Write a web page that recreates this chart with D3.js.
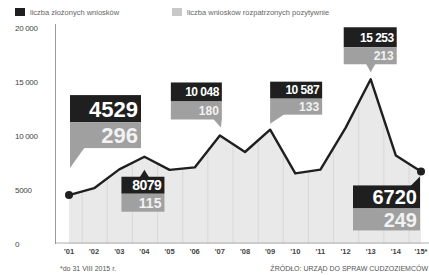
<!DOCTYPE html>
<html>
<head>
<meta charset="utf-8">
<script src="https://cdn.jsdelivr.net/npm/d3@7"></script>
<style>
  body { margin: 0; background: #fff; }
  text { font-family: "Liberation Sans", Arial, sans-serif; }
</style>
</head>
<body>
<div id="chart"></div>
<script>
// data
var years = [2001, 2002, 2003, 2004, 2005, 2006, 2007, 2008, 2009, 2010, 2011, 2012, 2013, 2014, 2015];
var yearLabels = ["'01", "'02", "'03", "'04", "'05", "'06", "'07", "'08", "'09", "'10", "'11", "'12", "'13", "'14", "'15*"];
var applications = [4529, 5170, 6909, 8079, 6860, 7093, 10048, 8517, 10587, 6534, 6887, 10753, 15253, 8193, 6720];
var labelledYears = [2001, 2004, 2007, 2009, 2013, 2015];
var positiveDecisions = [296, 115, 180, 133, 213, 249];
var yTicks = [0, 5000, 10000, 15000, 20000];
var yTickLabels = ["0", "5000", "10 000", "15 000", "20 000"];
var legendLabels = ["liczba złożonych wniosków", "liczba wniosków rozpatrzonych pozytywnie"];

var W = 429, H = 275;
var dark = '#1f1f1f', grey = '#a0a0a0';

var svg = d3.select('#chart').append('svg')
    .attr('width', W)
    .attr('height', H);

var x = d3.scaleLinear()
    .domain([2001, 2015])
    .range([69, 421]);

var y = d3.scaleLinear()
    .domain([0, 20000])
    .range([244, 28]);

var pts = years.map((yr, i) => ({year: yr, value: applications[i]}));

// legend
var legend = svg.append('g');
[[15, dark], [172, '#c8c8c8']].forEach(function(d, i) {
    legend.append('rect')
        .attr('x', d[0]).attr('y', 8)
        .attr('width', 10).attr('height', 8)
        .attr('fill', d[1]);
    legend.append('text')
        .attr('x', d[0] + 15).attr('y', 15)
        .attr('font-size', 7.5)
        .attr('fill', '#666')
        .text(legendLabels[i]);
});

// area + vertical grid
var area = d3.area()
    .x(d => x(d.year))
    .y0(y(0))
    .y1(d => y(d.value));

svg.append('path')
    .datum(pts)
    .attr('d', area)
    .attr('fill', '#e9e9e9');

svg.append('clipPath').attr('id', 'clip')
    .append('path').datum(pts).attr('d', area);

svg.append('g')
    .attr('clip-path', 'url(#clip)')
    .selectAll('line')
    .data(years).enter()
    .append('line')
    .attr('x1', d => x(d) - 12).attr('x2', d => x(d) - 12)
    .attr('y1', y(20000)).attr('y2', y(0))
    .attr('stroke', '#d8d8d8')
    .attr('stroke-width', 1);

// axes
svg.append('line')
    .attr('x1', 55).attr('x2', W)
    .attr('y1', y(0) - 1).attr('y2', y(0) - 1)
    .attr('stroke', '#b0b0b0').attr('stroke-width', 1.2);

svg.append('line')
    .attr('x1', 55.5).attr('x2', 55.5)
    .attr('y1', y(20000) - 4).attr('y2', y(0))
    .attr('stroke', '#9a9a9a').attr('stroke-width', 1);

svg.selectAll('.ytick')
    .data(yTicks).enter()
    .append('text')
    .attr('class', 'ytick')
    .attr('x', 15)
    .attr('y', d => y(d) + 3)
    .attr('font-size', 8)
    .attr('letter-spacing', -0.3)
    .attr('fill', '#444')
    .text((d, i) => yTickLabels[i]);

svg.selectAll('.xtick')
    .data(years).enter()
    .append('text')
    .attr('class', 'xtick')
    .attr('x', d => x(d))
    .attr('y', 254)
    .attr('text-anchor', 'middle')
    .attr('font-size', 7.5)
    .attr('font-weight', 'bold')
    .attr('fill', '#444')
    .text((d, i) => yearLabels[i]);

// line
var line = d3.line()
    .x(d => x(d.year))
    .y(d => y(d.value));

svg.append('path')
    .datum(pts)
    .attr('d', line)
    .attr('fill', 'none')
    .attr('stroke', dark)
    .attr('stroke-width', 2.4)
    .attr('stroke-linejoin', 'round');

svg.selectAll('.dot')
    .data([pts[0], pts[pts.length - 1]]).enter()
    .append('circle')
    .attr('cx', d => x(d.year))
    .attr('cy', d => y(d.value))
    .attr('r', 4)
    .attr('fill', dark);

// callout boxes: dx/dy = box top-left relative to point
var boxes = [
    {dx: 1,   dy: -100, w: 71, h1: 27, h2: 26, fs: 22, tail: 'downLeft'},
    {dx: -23, dy: 20,   w: 43, h1: 17, h2: 18, fs: 14, tail: 'up'},
    {dx: -49, dy: -53,  w: 51, h1: 19, h2: 18, fs: 12, tail: 'downRight'},
    {dx: 0,   dy: -48,  w: 52, h1: 17, h2: 16, fs: 12, tail: 'downLeft'},
    {dx: -27, dy: -52,  w: 53, h1: 20, h2: 17, fs: 12, tail: 'down'},
    {dx: -68, dy: 14,   w: 67, h1: 23, h2: 22, fs: 20, tail: 'upRight'}
];

var fmt = v => v >= 10000 ? d3.format(',')(v).replace(',', ' ') : String(v);

labelledYears.forEach(function(yr, i) {
    var idx = years.indexOf(yr);
    var px = x(yr), py = y(applications[idx]);
    var b = boxes[i];
    var bx = px + b.dx, by = py + b.dy;
    var g = svg.append('g');

    // tail
    var tail;
    var bottom = by + b.h1 + b.h2;
    if (b.tail === 'downLeft') tail = [[bx, bottom - 1], [bx + 15, bottom - 1], [bx, bottom + (b.fs > 20 ? 20 : 9)]];
    if (b.tail === 'downRight') tail = [[bx + b.w - 9, bottom - 1], [bx + b.w, bottom - 1], [bx + b.w - 1, bottom + 8]];
    if (b.tail === 'down') tail = [[px - 5, bottom - 1], [px + 5, bottom - 1], [px, bottom + 8]];
    if (b.tail === 'up') tail = [[px - 5, by + 1], [px + 5, by + 1], [px, by - 7]];
    if (b.tail === 'upRight') tail = [[bx + b.w - 10, by + 1], [bx + b.w, by + 1], [bx + b.w, by - 9]];
    var tailColor = (b.tail.indexOf('up') === 0) ? dark : grey;
    g.append('path')
        .attr('d', d3.line()(tail) + 'Z')
        .attr('fill', tailColor);

    g.append('rect')
        .attr('x', bx).attr('y', by)
        .attr('width', b.w).attr('height', b.h1)
        .attr('fill', dark);
    g.append('rect')
        .attr('x', bx).attr('y', by + b.h1)
        .attr('width', b.w).attr('height', b.h2)
        .attr('fill', grey);

    g.append('text')
        .attr('x', bx + b.w - 3)
        .attr('y', by + b.h1 / 2 + b.fs * 0.36)
        .attr('text-anchor', 'end')
        .attr('font-size', b.fs)
        .attr('font-weight', 'bold')
        .attr('letter-spacing', b.fs > 19 ? 0 : -0.5)
        .attr('fill', '#fff')
        .text(fmt(applications[idx]));
    g.append('text')
        .attr('x', bx + b.w - 3)
        .attr('y', by + b.h1 + b.h2 / 2 + b.fs * 0.36)
        .attr('text-anchor', 'end')
        .attr('font-size', b.fs)
        .attr('font-weight', 'bold')
        .attr('fill', '#f2f2f2')
        .text(positiveDecisions[i]);
});

// notes
svg.append('text')
    .attr('x', 60).attr('y', 271)
    .attr('font-size', 7)
    .attr('fill', '#555')
    .text('*do 31 VIII 2015 r.');

svg.append('text')
    .attr('x', 428).attr('y', 271)
    .attr('text-anchor', 'end')
    .attr('font-size', 7)
    .attr('fill', '#555')
    .text('ŹRÓDŁO: URZĄD DO SPRAW CUDZOZIEMCÓW');
</script>
</body>
</html>
